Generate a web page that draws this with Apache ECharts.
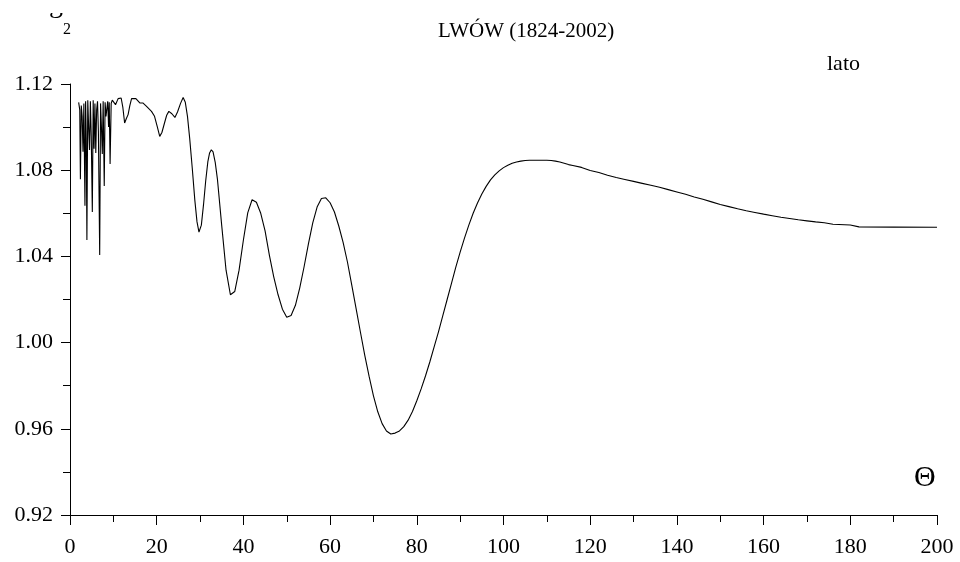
<!DOCTYPE html>
<html>
<head>
<meta charset="utf-8">
<script src="https://cdn.jsdelivr.net/npm/echarts@6/dist/echarts.min.js"></script>
<style>
  html, body { margin: 0; padding: 0; background: #fff; }
  #chart { width: 960px; height: 562px; }
</style>
</head>
<body>
<div id="chart"></div>
<script>
// values: theta (x) and g2 (y)
var theta = [
  2, 2.25, 2.4, 2.6, 2.8, 3.0, 3.2, 3.45, 3.6, 3.75, 3.9, 4.1, 4.3, 4.5, 4.7, 4.9,
  5.15, 5.35, 5.55, 5.75, 5.95, 6.15, 6.35, 6.55, 6.85, 7.05, 7.25, 7.45, 7.65, 7.9,
  8.1, 8.3, 8.45, 8.7, 8.9, 9.05, 9.25, 9.5, 9.75, 10.1, 10.5, 11.1, 11.8, 12.2, 12.6,
  13.0, 13.4, 13.8, 14.2, 15.2, 16.1, 16.8, 17.6, 18.8, 19.5, 20.1, 20.7, 21.2, 21.8,
  22.3, 22.8, 23.5, 24.2, 24.8, 25.5, 26.1, 26.6, 27.1, 27.6, 28.2, 28.8, 29.3, 29.75,
  30.3, 30.8, 31.3, 31.8, 32.2, 32.6, 33.0, 33.5, 34, 35, 36, 37, 38, 39, 40, 41, 42,
  43, 44, 45, 46, 47, 48, 49, 50, 51, 52, 53, 54, 55, 56, 57, 58, 59, 60, 61, 62, 63,
  64, 65, 66, 67, 68, 69, 70, 71, 72, 73, 74, 75, 76, 77, 78, 79, 80, 81, 82, 83, 84,
  85, 86, 87, 88, 89, 90, 91, 92, 93, 94, 95, 96, 97, 98, 99, 100, 101, 102, 103, 104,
  105, 106, 108, 110, 111, 112, 113, 114, 115, 116, 118, 120, 122, 124, 126, 128, 130,
  132, 134, 136, 138, 140, 142, 144, 146, 148, 150, 152, 154, 156, 158, 160, 162, 164,
  166, 168, 170, 172, 174, 176, 180, 182, 190, 200
];
var g2 = [
  1.1115, 1.1080, 1.0758, 1.1100, 1.1050, 1.0886, 1.1110, 1.0635, 1.1120, 1.0950, 1.0476, 1.1125, 1.1000, 1.0894, 1.1120, 1.0960,
  1.0606, 1.1125, 1.0900, 1.1110, 1.0880, 1.1080, 1.1120, 1.0980, 1.0406, 1.1110, 1.1000, 1.0875, 1.1120, 1.0727,
  1.1115, 1.1050, 1.1055, 1.1120, 1.1000, 1.1115, 1.0829, 1.1110, 1.1125, 1.1127, 1.1104, 1.1132, 1.1135, 1.1090, 1.1019,
  1.1040, 1.1058, 1.1100, 1.1132, 1.1132, 1.1112, 1.1112, 1.1097, 1.1073, 1.1050, 1.1005, 1.0957, 1.0975, 1.1019,
  1.1055, 1.1073, 1.1062, 1.1045, 1.1070, 1.1110, 1.1137, 1.1115, 1.1050, 1.0950, 1.0810, 1.0660, 1.0560, 1.0513,
  1.0545, 1.0640, 1.0750, 1.0840, 1.0880, 1.0895, 1.0885, 1.0836, 1.0760, 1.0543, 1.0336, 1.0222, 1.0237, 1.0336, 1.0476, 1.0602, 1.0663,
  1.0651, 1.0600, 1.0518, 1.0405, 1.0305, 1.0222, 1.0155, 1.0118, 1.0126, 1.0173, 1.0254, 1.0352, 1.0458, 1.0556, 1.0629, 1.0669, 1.0672, 1.0649, 1.0606, 1.0541, 1.0465,
  1.0374, 1.0267, 1.0158, 1.0048, 0.9941, 0.9843, 0.9753, 0.9679, 0.9624, 0.9590, 0.9576, 0.9580, 0.9590, 0.9610, 0.9640, 0.9680, 0.9730, 0.9785, 0.9845, 0.9910, 0.9980,
  1.0050, 1.0125, 1.0200, 1.0275, 1.0350, 1.0420, 1.0485, 1.0545, 1.0600, 1.0648, 1.0690, 1.0725, 1.0755, 1.0778, 1.0797, 1.0812, 1.0823, 1.0832, 1.0838, 1.0842,
  1.0845, 1.0846, 1.0846, 1.0846, 1.0845, 1.0842, 1.0838, 1.0832, 1.0826, 1.0822, 1.0813, 1.0799, 1.0789, 1.0777, 1.0766, 1.0757, 1.0748,
  1.0739, 1.0730, 1.0721, 1.0710, 1.0699, 1.0688, 1.0676, 1.0665, 1.0653, 1.0641, 1.0631, 1.0621, 1.0612, 1.0604, 1.0596, 1.0589, 1.0582,
  1.0576, 1.0570, 1.0565, 1.0560, 1.0556, 1.0549, 1.0546, 1.0537, 1.0536, 1.0535
];
var xTicks = [0, 20, 40, 60, 80, 100, 120, 140, 160, 180, 200];
var yTicks = [0.92, 0.96, 1.00, 1.04, 1.08, 1.12];

var serif = '"Liberation Serif", "DejaVu Serif", serif';
var chart = echarts.init(document.getElementById("chart"));

var option = {
  animation: false,
  backgroundColor: "#fff",
  title: {
    text: "LWÓW (1824-2002)",
    left: 433,
    top: 16,
    textStyle: { fontFamily: serif, fontSize: 21, fontWeight: "normal", color: "#000" }
  },
  grid: { left: 70, right: 23, top: 84, bottom: 47 },
  xAxis: {
    type: "value",
    min: xTicks[0],
    max: xTicks[xTicks.length - 1],
    interval: 20,
    axisLine: { lineStyle: { color: "#000", width: 1 } },
    axisTick: { length: 10, lineStyle: { color: "#000" } },
    minorTick: { show: true, splitNumber: 2, length: 7, lineStyle: { color: "#000" } },
    splitLine: { show: false },
    axisLabel: { fontFamily: serif, fontSize: 22, color: "#000", margin: 21 }
  },
  yAxis: {
    type: "value",
    min: yTicks[0],
    max: yTicks[yTicks.length - 1],
    interval: 0.04,
    axisLine: { show: true, lineStyle: { color: "#000", width: 1 } },
    axisTick: { show: true, length: 9, lineStyle: { color: "#000" } },
    minorTick: { show: true, splitNumber: 2, length: 7, lineStyle: { color: "#000" } },
    splitLine: { show: false },
    axisLabel: {
      fontFamily: serif, fontSize: 22, color: "#000", margin: 17,
      formatter: function (v) { return v.toFixed(2); }
    }
  },
  graphic: [
    // axis name: only the bottom of the "g" shows, the rest is hidden as in the source
    { type: "text", x: 49, y: -9, z: 1, style: { text: "g", font: "28px " + serif, fill: "#000", textAlign: "left", textVerticalAlign: "top" } },
    { type: "rect", x: 40, y: 0, z: 10, shape: { width: 30, height: 13 }, style: { fill: "#fff" } },
    { type: "text", x: 63, y: 22, style: { text: "2", font: "16px " + serif, fill: "#000" } },
    { type: "text", x: 827, y: 53, style: { text: "lato", font: "22px " + serif, fill: "#000" } },
    { type: "text", x: 914, y: 463, style: { text: "Θ", font: "30px " + serif, fill: "#000" } }
  ],
  series: [
    {
      type: "line",
      showSymbol: false,
      data: theta.map(function (t, i) { return [t, g2[i]]; }),
      lineStyle: { color: "#000", width: 1.1 },
      silent: true
    }
  ]
};
chart.setOption(option);
</script>
</body>
</html>
